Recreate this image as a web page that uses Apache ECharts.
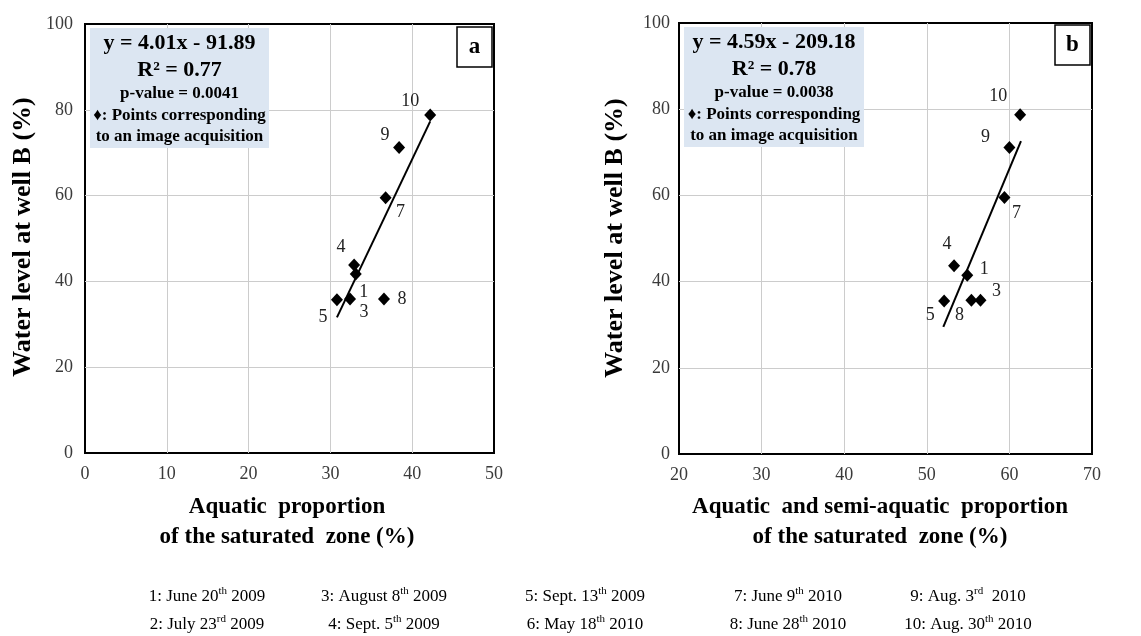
<!DOCTYPE html>
<html><head><meta charset="utf-8">
<script src="https://cdn.jsdelivr.net/npm/echarts@6/dist/echarts.min.js"></script>
<style>html,body{margin:0;padding:0;background:#fff}#c{width:1141px;height:636px}</style>
</head><body><div id="c"></div>
<script>
// ---- data ----
const pointIds = ['1','3','4','5','7','8','9','10'];
const aquaticX = [33.1, 32.4, 32.9, 30.8, 36.75, 36.55, 38.4, 42.2];
const aquaticY = [41.7, 35.9, 43.8, 35.7, 59.5, 35.9, 71.2, 78.8];
const semiAquaticX = [54.9, 56.5, 53.3, 52.1, 59.4, 55.4, 60.0, 61.3];
const semiAquaticY = [41.5, 35.7, 43.7, 35.5, 59.5, 35.7, 71.1, 78.7];
const trendA = [[30.8, 31.6], [42.2, 77.3]];
const trendB = [[52.0, 29.5], [61.4, 72.6]];
const yTicks = [0, 20, 40, 60, 80, 100];
const xTicksA = [0, 10, 20, 30, 40, 50];
const xTicksB = [20, 30, 40, 50, 60, 70];
const dateLegend = [
  ['1: June 20{s|th} 2009', '2: July 23{s|rd} 2009'],
  ['3: August 8{s|th} 2009', '4: Sept. 5{s|th} 2009'],
  ['5: Sept. 13{s|th} 2009', '6: May 18{s|th} 2010'],
  ['7: June 9{s|th} 2010', '8: June 28{s|th} 2010'],
  ['9: Aug. 3{s|rd}  2010', '10: Aug. 30{s|th} 2010']
];

// ---- styles ----
const FONT = 'Liberation Serif';
const labelOffsetA = {'1':[8,18],'3':[14,13],'4':[-13,-18],'5':[-14,17],'7':[15,15],'8':[18,0],'9':[-14,-12],'10':[-20,-14]};
const labelOffsetB = {'1':[17,-6],'3':[16,-9],'4':[-7,-21],'5':[-14,14],'7':[12,16],'8':[-12,15],'9':[-24,-10],'10':[-22,-19]};

function pts(xs, ys, offs) {
  return xs.map((x, i) => ({
    value: [x, ys[i]],
    name: pointIds[i],
    label: {show: true, position: 'inside', offset: offs[pointIds[i]], formatter: '{b}',
            color: '#222', fontFamily: FONT, fontSize: 18, align: 'center', verticalAlign: 'middle'}
  }));
}

const chart = echarts.init(document.getElementById('c'));
const axisLabel = {color: '#3a3a3a', fontFamily: FONT, fontSize: 18};
const split = {show: true, showMinLine: false, showMaxLine: false, lineStyle: {color: '#cccccc', width: 1}};

function xAxis(idx, ticks) {
  return {type: 'value', gridIndex: idx, min: ticks[0], max: ticks[ticks.length - 1], interval: ticks[1] - ticks[0],
    axisLine: {show: false}, axisTick: {show: false}, axisLabel: Object.assign({margin: 12}, axisLabel), splitLine: split};
}
function yAxis(idx, margin) {
  return {type: 'value', gridIndex: idx, min: yTicks[0], max: yTicks[yTicks.length - 1], interval: yTicks[1] - yTicks[0],
    axisLine: {show: false}, axisTick: {show: false}, axisLabel: Object.assign({margin: margin}, axisLabel), splitLine: split};
}

function annot(x, y, w, h, lines, letterX, letterY, letter) {
  const cx = x + w / 2;
  return [
    {type: 'rect', shape: {x: x, y: y, width: w, height: h}, style: {fill: '#dce6f2'}, z: 50},
    {type: 'text', x: cx, y: y + 15, style: {text: lines[0], font: 'bold 22px ' + FONT, fill: '#000', align: 'center', verticalAlign: 'middle'}, z: 51},
    {type: 'text', x: cx, y: y + 42, style: {text: lines[1], font: 'bold 22px ' + FONT, fill: '#000', align: 'center', verticalAlign: 'middle'}, z: 51},
    {type: 'text', x: cx, y: y + 66, style: {text: lines[2], font: 'bold 17px ' + FONT, fill: '#000', align: 'center', verticalAlign: 'middle'}, z: 51},
    {type: 'text', x: cx, y: y + 88, style: {text: '\u2666: Points corresponding', font: 'bold 17px ' + FONT, fill: '#000', align: 'center', verticalAlign: 'middle'}, z: 51},
    {type: 'text', x: cx, y: y + 109, style: {text: 'to an image acquisition', font: 'bold 17px ' + FONT, fill: '#000', align: 'center', verticalAlign: 'middle'}, z: 51},
    {type: 'rect', shape: {x: letterX, y: letterY, width: 35, height: 40}, style: {fill: '#fff', stroke: '#000', lineWidth: 1.5}, z: 50},
    {type: 'text', x: letterX + 17.5, y: letterY + 20, style: {text: letter, font: 'bold 23px ' + FONT, fill: '#000', align: 'center', verticalAlign: 'middle'}, z: 51}
  ];
}

const graphics = [];
graphics.push(...annot(90, 28, 179, 120, ['y = 4.01x - 91.89', 'R\u00b2 = 0.77', 'p-value = 0.0041'], 457, 27, 'a'));
graphics.push(...annot(684, 27, 180, 120, ['y = 4.59x - 209.18', 'R\u00b2 = 0.78', 'p-value = 0.0038'], 1055, 25, 'b'));
// axis titles
graphics.push({type: 'text', x: 23, y: 237, rotation: Math.PI / 2, style: {text: 'Water level at well B (%)', font: 'bold 26px ' + FONT, fill: '#000', align: 'center', verticalAlign: 'middle'}});
graphics.push({type: 'text', x: 615, y: 238, rotation: Math.PI / 2, style: {text: 'Water level at well B (%)', font: 'bold 26px ' + FONT, fill: '#000', align: 'center', verticalAlign: 'middle'}});
graphics.push({type: 'text', x: 287, y: 507, style: {text: 'Aquatic  proportion', font: 'bold 23px ' + FONT, fill: '#000', align: 'center', verticalAlign: 'middle'}});
graphics.push({type: 'text', x: 287, y: 537, style: {text: 'of the saturated  zone (%)', font: 'bold 23px ' + FONT, fill: '#000', align: 'center', verticalAlign: 'middle'}});
graphics.push({type: 'text', x: 880, y: 507, style: {text: 'Aquatic  and semi-aquatic  proportion', font: 'bold 23px ' + FONT, fill: '#000', align: 'center', verticalAlign: 'middle'}});
graphics.push({type: 'text', x: 880, y: 537, style: {text: 'of the saturated  zone (%)', font: 'bold 23px ' + FONT, fill: '#000', align: 'center', verticalAlign: 'middle'}});
// date legend
const colCenters = [207, 384, 585, 788, 968];
dateLegend.forEach((col, i) => {
  col.forEach((t, j) => {
    graphics.push({type: 'text', x: colCenters[i], y: 597 + j * 28, style: {
      text: t, fontFamily: FONT, fontSize: 17, fill: '#000', align: 'center', verticalAlign: 'middle',
      rich: {s: {fontSize: 11, fontFamily: FONT, fill: '#000', verticalAlign: 'top', lineHeight: 22}}
    }});
  });
});

chart.setOption({
  animation: false,
  backgroundColor: '#fff',
  grid: [
    {left: 85, top: 24, width: 409, height: 429, show: true, borderColor: '#000', borderWidth: 2, backgroundColor: 'transparent'},
    {left: 679, top: 23, width: 413, height: 431, show: true, borderColor: '#000', borderWidth: 2, backgroundColor: 'transparent'}
  ],
  xAxis: [xAxis(0, xTicksA), xAxis(1, xTicksB)],
  yAxis: [yAxis(0, 12), yAxis(1, 9)],
  series: [
    {type: 'line', xAxisIndex: 0, yAxisIndex: 0, data: trendA, symbol: 'none', lineStyle: {color: '#000', width: 2}, z: 3},
    {type: 'scatter', xAxisIndex: 0, yAxisIndex: 0, data: pts(aquaticX, aquaticY, labelOffsetA), symbol: 'diamond', symbolSize: [12, 13], itemStyle: {color: '#000', opacity: 1}, z: 4},
    {type: 'line', xAxisIndex: 1, yAxisIndex: 1, data: trendB, symbol: 'none', lineStyle: {color: '#000', width: 2}, z: 3},
    {type: 'scatter', xAxisIndex: 1, yAxisIndex: 1, data: pts(semiAquaticX, semiAquaticY, labelOffsetB), symbol: 'diamond', symbolSize: [12, 13], itemStyle: {color: '#000', opacity: 1}, z: 4}
  ],
  graphic: graphics
});
</script></body></html>
